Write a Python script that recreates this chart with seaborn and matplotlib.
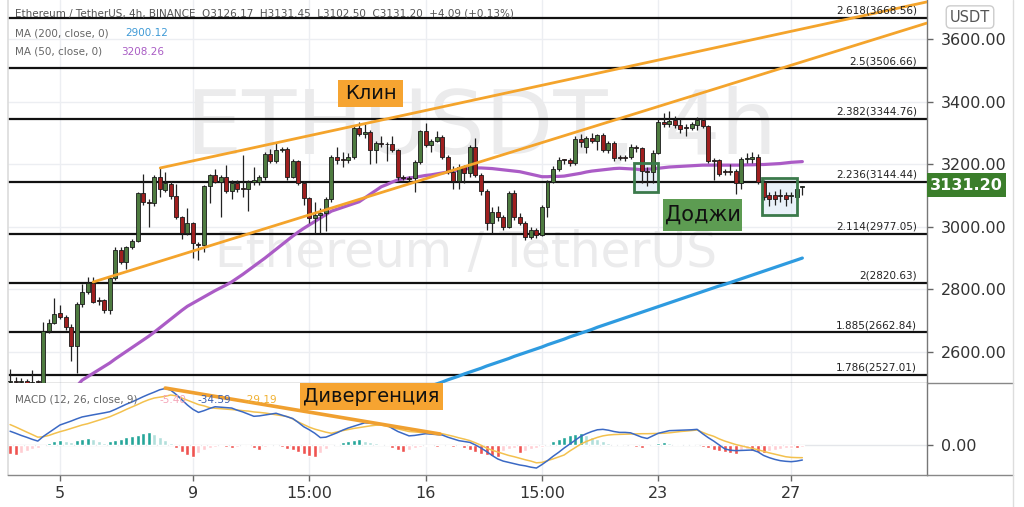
import numpy as np
import pandas as pd
import matplotlib
matplotlib.use("Agg")
import matplotlib.pyplot as plt
from matplotlib.patches import Rectangle, FancyBboxPatch
from matplotlib.lines import Line2D
import seaborn as sns

# ---------------- data ----------------
opens = [2503, 2507, 2504, 2506, 2502, 2505, 2490, 2668, 2693, 2724,
         2712, 2680, 2619, 2753, 2793, 2821, 2766, 2766, 2734, 2835,
         2926, 2888, 2934, 2955, 3107, 3080, 3075, 3158, 3117, 3137,
         3098, 3030, 2981, 3011, 2945, 2942, 3130, 3165, 3144, 3158,
         3115, 3141, 3122, 3120, 3144, 3144, 3158, 3233, 3211, 3245,
         3249, 3160, 3210, 3141, 3091, 3027, 3038, 3043, 3088, 3222,
         3214, 3213, 3224, 3315, 3296, 3304, 3245, 3269, 3264, 3264,
         3245, 3156, 3155, 3155, 3208, 3307, 3261, 3275, 3288, 3222,
         3176, 3147, 3192, 3171, 3256, 3165, 3115, 3011, 3048, 3030,
         2998, 3107, 3030, 3013, 2966, 2990, 2974, 3064, 3144, 3184,
         3213, 3213, 3203, 3280, 3256, 3283, 3275, 3293, 3245, 3269,
         3220, 3222, 3224, 3256, 3251, 3177, 3176, 3237, 3336, 3329,
         3340, 3325, 3318, 3316, 3325, 3341, 3322, 3211, 3213, 3177,
         3177, 3179, 3139, 3216, 3216, 3224, 3144, 3101, 3100, 3099,
         3101, 3097, 3096, 3126.17]
highs = [2545, 2520, 2518, 2515, 2541, 2512, 2696, 2705, 2772, 2750,
         2718, 2690, 2760, 2817, 2841, 2841, 2775, 2770, 2840, 2935,
         2935, 2940, 2962, 3112, 3169, 3090, 3165, 3187, 3175, 3145,
         3137, 3035, 3060, 3015, 2950, 3135, 3170, 3185, 3165, 3197,
         3150, 3148, 3229, 3150, 3190, 3165, 3240, 3250, 3267, 3255,
         3255, 3215, 3212, 3145, 3095, 3080, 3060, 3095, 3228, 3255,
         3240, 3235, 3322, 3335, 3330, 3310, 3275, 3290, 3270, 3290,
         3250, 3165, 3162, 3212, 3310, 3333, 3280, 3305, 3292, 3230,
         3195, 3200, 3198, 3262, 3285, 3172, 3120, 3062, 3065, 3038,
         3115, 3117, 3045, 3020, 3000, 2995, 3070, 3150, 3195, 3222,
         3218, 3220, 3290, 3295, 3290, 3300, 3298, 3300, 3275, 3275,
         3228, 3230, 3265, 3262, 3255, 3190, 3245, 3345, 3365, 3370,
         3355, 3345, 3330, 3335, 3350, 3348, 3325, 3220, 3218, 3185,
         3200, 3185, 3222, 3235, 3240, 3232, 3148, 3110, 3115, 3120,
         3112, 3110, 3128, 3131.45]
lows = [2480, 2490, 2485, 2488, 2480, 2482, 2485, 2660, 2688, 2705,
        2670, 2572, 2533, 2745, 2785, 2755, 2750, 2725, 2720, 2830,
        2880, 2865, 2930, 2950, 3070, 2999, 3065, 3095, 3110, 3090,
        3025, 2960, 2975, 2900, 2894, 2920, 3076, 3140, 3032, 3108,
        3090, 3110, 3095, 3050, 3135, 3135, 3150, 3205, 3205, 3238,
        3150, 3155, 3135, 3070, 3013, 2979, 2980, 2985, 3080, 3200,
        3190, 3205, 3218, 3290, 3285, 3200, 3205, 3255, 3210, 3240,
        3150, 3148, 3145, 3110, 3200, 3255, 3240, 3270, 3215, 3170,
        3120, 3120, 3140, 3160, 3160, 3100, 2990, 2979, 3020, 2990,
        2995, 3022, 3005, 2958, 2960, 2965, 2970, 3030, 3140, 3178,
        3200, 3195, 3198, 3255, 3235, 3268, 3245, 3240, 3235, 3210,
        3212, 3210, 3215, 3240, 3140, 3130, 3140, 3232, 3320, 3320,
        3315, 3300, 3290, 3310, 3310, 3315, 3205, 3150, 3162, 3165,
        3165, 3105, 3120, 3205, 3205, 3138, 3085, 3065, 3070, 3080,
        3065, 3075, 3085, 3102.50]
closes = [2507, 2504, 2506, 2502, 2505, 2503, 2668, 2693, 2721, 2712,
          2680, 2619, 2753, 2793, 2821, 2761, 2762, 2734, 2835, 2926,
          2888, 2934, 2955, 3107, 3080, 3075, 3160, 3120, 3139, 3098,
          3030, 2981, 3011, 2947, 2942, 3130, 3165, 3144, 3158, 3115,
          3141, 3120, 3120, 3144, 3150, 3158, 3233, 3211, 3245, 3249,
          3160, 3210, 3141, 3091, 3027, 3038, 3043, 3088, 3222, 3213,
          3213, 3224, 3315, 3296, 3304, 3245, 3269, 3264, 3263, 3245,
          3158, 3155, 3154, 3208, 3307, 3261, 3275, 3288, 3222, 3176,
          3147, 3192, 3171, 3256, 3165, 3115, 3011, 3048, 3030, 2998,
          3107, 3030, 3013, 2966, 2990, 2974, 3064, 3144, 3184, 3213,
          3212, 3203, 3280, 3270, 3283, 3275, 3293, 3245, 3269, 3219,
          3219, 3220, 3256, 3251, 3179, 3176, 3237, 3336, 3329, 3339,
          3325, 3311, 3316, 3330, 3341, 3322, 3210, 3210, 3169, 3176,
          3176, 3139, 3216, 3217, 3224, 3144, 3095, 3088, 3090, 3098,
          3088, 3098, 3122, 3131.20]

ma50_start = 12
ma50 = [2490, 2510, 2521, 2532, 2543, 2554, 2565, 2578, 2590, 2602,
        2614, 2626, 2638, 2650, 2663, 2677, 2691, 2705, 2719, 2733,
        2746, 2756, 2766, 2776, 2786, 2796, 2805, 2814, 2824, 2836,
        2848, 2861, 2874, 2887, 2900, 2914, 2928, 2942, 2956, 2970,
        2983, 2995, 3006, 3017, 3028, 3039, 3050, 3056, 3062, 3068,
        3074, 3080, 3092, 3104, 3116, 3128, 3135, 3143, 3150, 3153,
        3156, 3158, 3161, 3164, 3166, 3169, 3172, 3175, 3178, 3181,
        3184, 3187, 3188, 3188, 3187, 3186, 3184, 3182, 3180, 3178,
        3176, 3172, 3168, 3164, 3160, 3160, 3161, 3161, 3162, 3165,
        3168, 3171, 3175, 3178, 3180, 3182, 3184, 3186, 3187, 3186,
        3185, 3184, 3182, 3184, 3185, 3187, 3189, 3191, 3192, 3193,
        3194, 3195, 3196, 3197, 3197, 3197, 3197, 3197, 3197, 3197,
        3197, 3198, 3198, 3199, 3199, 3200, 3201, 3202, 3204, 3206,
        3207, 3208.26]
ma200_start = 76
ma200 = [2492, 2498, 2504, 2511, 2517, 2523, 2530, 2536, 2542, 2548,
         2555, 2561, 2567, 2573, 2579, 2586, 2592, 2598, 2604, 2610,
         2616, 2623, 2629, 2635, 2641, 2648, 2654, 2660, 2666, 2672,
         2679, 2685, 2691, 2697, 2703, 2709, 2715, 2721, 2727, 2733,
         2739, 2745, 2751, 2757, 2763, 2769, 2775, 2781, 2787, 2793,
         2799, 2805, 2811, 2816, 2822, 2828, 2834, 2840, 2846, 2852,
         2858, 2864, 2870, 2876, 2882, 2888, 2894, 2900.12]

macd = [31.7, 27, 22, 17.7, 13, 9, 19.8, 28.6, 37.4, 46,
        50.5, 55, 60, 64.5, 67, 69.4, 71.7, 74, 76.6, 82,
        88, 94, 99, 105, 111, 116.5, 121.5, 127, 130, 126,
        116, 104, 92, 82, 75, 79, 84, 88, 87, 86,
        85, 80, 76, 71, 66, 67, 69, 71, 73, 69,
        65, 61, 52, 42, 35, 27, 17, 18, 23, 28,
        34, 39, 43, 47, 51, 50, 49, 48, 46, 38,
        31, 26, 21, 22, 24, 26, 25, 24, 23, 18,
        14, 10, 8, 6, 0, -7, -15, -24, -32, -37,
        -40, -43, -46, -48, -51, -53, -45, -36, -26, -17,
        -7, 2, 11, 20, 26, 31, 35, 36, 34, 31,
        29, 29, 28, 23, 18, 15, 21, 27, 30, 33,
        33.5, 34, 34.5, 35, 36, 26, 17, 9, 0, -9,
        -12, -13, -12.5, -12, -11.5, -16, -24, -29, -33, -36,
        -37.5, -38.4, -37, -34.59]
signal = [47, 41.5, 35.5, 29.7, 24, 18, 19, 22, 26.5, 30.6,
          34, 38, 42, 46, 49, 53, 57, 61, 65, 70.5,
          76, 82, 87.5, 93, 99, 104, 108, 110, 112, 115,
          113, 108, 103, 98, 93, 90, 86, 84.5, 83.5, 82.5,
          81.5, 80.5, 79, 78, 76, 75, 73.6, 71.5, 69.5, 67.5,
          65.5, 60, 53, 47, 41, 36.5, 33, 29.5, 27, 30,
          33, 35.5, 38, 40, 42, 44, 45.5, 46, 43, 40,
          37, 34, 31, 30, 29, 28.5, 28, 27.5, 26, 23,
          20, 16.5, 13.5, 10, 5, -0.5, -7, -12, -16, -20,
          -24, -27, -30.6, -34, -37, -41, -40, -36, -32, -27.5,
          -23, -14, -6, 2, 8, 13, 17.5, 21, 23, 24,
          24.5, 25, 25.3, 25.5, 26, 26, 26.3, 26.5, 27, 28,
          29.5, 31, 32, 33.3, 34.5, 29, 24, 20, 14, 9,
          5, 1, -2, -5, -8, -11, -14.5, -18, -21, -24,
          -27, -28.5, -29, -29.19]
hist = [-20.7, -23.0, -18.4, -13.8, -9.2, -6.9, -2.3, 4.6, 9.2, 11.5,
        9.2, 6.9, 11.5, 13.8, 16.1, 13.8, 9.2, 4.6, 9.2, 11.5,
        13.8, 18.4, 20.7, 23.0, 27.6, 29.9, 25.3, 18.4, 11.5, 4.6,
        -6.9, -16.1, -23.0, -27.6, -18.4, -11.5, -6.9, -4.6, -2.3, -4.6,
        -6.9, -4.6, -2.3, -2.3, -6.9, -11.5, -4.6, -2.3, -1.2, -4.6,
        -9.2, -11.5, -16.1, -20.7, -25.3, -27.6, -18.4, -9.2, -2.3, 2.3,
        6.9, 9.2, 11.5, 13.8, 9.2, 6.9, 4.6, 2.3, 1.2, -6.9,
        -11.5, -16.1, -11.5, -6.9, -4.6, -2.3, -1.2, -4.6, -2.3, -1.2,
        -4.6, -2.3, -6.9, -11.5, -16.1, -20.7, -23.0, -25.3, -27.6, -13.8,
        -9.2, -6.9, -18.4, -13.8, -9.2, -6.9, -4.6, 2.3, 9.2, 13.8,
        18.4, 23.0, 25.3, 27.6, 23.0, 18.4, 13.8, 9.2, 4.6, 2.3,
        1.2, 0.7, -1.2, -4.6, -6.9, -2.3, 2.3, 4.6, 5.8, 4.6,
        2.3, 1.2, 2.3, 1.2, 0.7, -4.6, -6.9, -11.5, -13.8, -16.1,
        -18.4, -20.7, -11.5, -9.2, -13.8, -16.1, -18.4, -13.8, -11.5, -9.2,
        -6.9, -5.8, -5.8, -5.40]

fib_ratios = ["2.618", "2.5", "2.382", "2.236", "2.114", "2", "1.885", "1.786"]
fib_levels = [3668.56, 3506.66, 3344.76, 3144.44, 2977.05, 2820.63, 2662.84, 2527.01]
date_ticks = [9, 33, 54, 75, 96, 117, 141]
date_labels = ["5", "9", "15:00", "16", "15:00", "23", "27"]
price_ticks = [2600, 2800, 3000, 3200, 3400, 3600]
last_price = 3131.20

# drawings (index, price)
wedge_upper = [(27.1, 3188), (165.5, 3718.6)]
wedge_lower = [(15.0, 2823.6), (165.5, 3651.0)]
divergence = [(28.0, 131.0), (77.6, 25.3)]
doji_boxes = [(112.6, 3111, 4.4, 93), (135.7, 3038, 6.3, 118)]

# ---------------- style ----------------
sns.set_theme(style="white")
plt.rcParams["font.family"] = ["DejaVu Sans"]

W, H = 1024, 507
fig = plt.figure(figsize=(W / 100, H / 100), dpi=100)
fig.patch.set_facecolor("white")
L, R = 8, 927
ax = fig.add_axes([L / W, 1 - 383 / H, (R - L) / W, 383 / H])
axm = fig.add_axes([L / W, 1 - 475 / H, (R - L) / W, 92 / H], sharex=ax)

n = len(closes)
idx = np.arange(n)
df = pd.DataFrame({"i": idx, "open": opens, "high": highs, "low": lows, "close": closes})
XMIN, XMAX = -0.38, 165.5
ax.set_xlim(XMIN, XMAX)
ax.set_ylim(2500.9, 3724.6)
axm.set_ylim(-69, 142.6)

def ax_frac_x(px):
    return (px - L) / (R - L)

# grid
for a in (ax, axm):
    a.set_facecolor("white")
    for t in date_ticks:
        a.axvline(t, color="#eceef2", lw=1, zorder=0)
for p in price_ticks:
    ax.axhline(p, color="#eceef2", lw=1, zorder=0)
axm.axhline(0, color="#e4e6ea", lw=1, zorder=0)

# watermark
ax.text(ax_frac_x(481), (383 - 130) / 383, "ETHUSDT, 4h", transform=ax.transAxes,
        ha="center", va="center", fontsize=64, color="#ebebec", zorder=0.5)
ax.text(ax_frac_x(466), (383 - 253) / 383, "Ethereum / TetherUS", transform=ax.transAxes,
        ha="center", va="center", fontsize=35, color="#ebebec", zorder=0.5)

# fib levels
for r, lv in zip(fib_ratios, fib_levels):
    ax.axhline(lv, color="#111111", lw=1.6, zorder=2)
    ax.annotate(f"{r}({lv:.2f})", xy=(ax_frac_x(917), lv), xycoords=("axes fraction", "data"),
                xytext=(0, 1.5), textcoords="offset points", ha="right", va="bottom",
                fontsize=7.5, color="#222222", zorder=6)

# moving averages
sns.lineplot(x=np.arange(ma50_start, ma50_start + len(ma50)), y=ma50, ax=ax,
             color="#ab5cc6", lw=2.3, sort=False, estimator=None, legend=False, zorder=2.5)
sns.lineplot(x=np.arange(ma200_start, ma200_start + len(ma200)), y=ma200, ax=ax,
             color="#2e9be0", lw=2.3, sort=False, estimator=None, legend=False, zorder=2.5)

# doji boxes
for (x0, y0, w, h) in doji_boxes:
    ax.add_patch(Rectangle((x0, y0), w, h, facecolor="#dbe9f5", alpha=0.6, edgecolor="none", zorder=1.5))
    ax.add_patch(Rectangle((x0, y0), w, h, facecolor="none", edgecolor="#3b7a4b", lw=2, zorder=4))

# candles
up = df["close"] >= df["open"]
ax.vlines(df["i"], df["low"], df["high"], color="#222222", lw=0.9, zorder=3)
body_lo = np.minimum(df["open"], df["close"])
body_h = np.maximum(np.abs(df["close"] - df["open"]), 3.0)
ax.bar(df["i"], body_h, bottom=body_lo, width=0.72,
       color=np.where(up, "#4e7b40", "#9f1f1f"), edgecolor="#1a1a1a", linewidth=0.6, zorder=3.2)

# wedge lines
for seg in (wedge_upper, wedge_lower):
    ax.plot([seg[0][0], seg[1][0]], [seg[0][1], seg[1][1]], color="#f4a42c", lw=2.0,
            zorder=3.5, solid_capstyle="round", clip_on=True)

# MACD panel
h = np.array(hist)
prev = np.concatenate([[h[0]], h[:-1]])
cols = np.where(h >= 0, np.where(h >= prev, "#26a69a", "#b2dfdb"),
                np.where(h <= prev, "#ef5350", "#ffcdd2"))
axm.bar(idx, h, width=0.72, color=cols, zorder=2)
sns.lineplot(x=idx, y=signal, ax=axm, color="#f3c14e", lw=1.1, sort=False,
             estimator=None, legend=False, zorder=3)
sns.lineplot(x=idx, y=macd, ax=axm, color="#3b69c4", lw=1.1, sort=False,
             estimator=None, legend=False, zorder=3.1)
axm.plot([divergence[0][0], divergence[1][0]], [divergence[0][1], divergence[1][1]],
         color="#f0a030", lw=2.6, zorder=4, solid_capstyle="round")

# axes formatting
ax.yaxis.tick_right()
ax.set_yticks(price_ticks)
ax.set_yticklabels([f"{p:.2f}" for p in price_ticks])
ax.tick_params(axis="y", right=True, length=4, width=1, color="#666666", pad=6,
               labelsize=11.5, labelcolor="#333333")
ax.tick_params(axis="x", bottom=False, labelbottom=False)
axm.yaxis.tick_right()
axm.set_yticks([0])
axm.set_yticklabels(["0.00"])
axm.tick_params(axis="y", right=True, length=4, width=1, color="#666666", pad=6,
                labelsize=11.5, labelcolor="#333333")
axm.set_xticks(date_ticks)
axm.set_xticklabels(date_labels)
axm.tick_params(axis="x", bottom=True, length=4, width=1, color="#666666", pad=4,
                labelsize=11.5, labelcolor="#333333")
for a in (ax, axm):
    a.set_xlabel("")
    a.set_ylabel("")
    for s in ("top",):
        a.spines[s].set_visible(False)
    a.spines["left"].set_color("#dddddd")
    a.spines["right"].set_color("#777777")
    a.spines["bottom"].set_color("#888888")
    a.spines["right"].set_linewidth(1)
    a.spines["bottom"].set_linewidth(1)

# figure lines (panel separators across price scale, outer border)
fig.add_artist(Line2D([R / W, 1013 / W], [1 - 383 / H] * 2, color="#888888", lw=1, transform=fig.transFigure))
fig.add_artist(Line2D([R / W, 1013 / W], [1 - 475 / H] * 2, color="#888888", lw=1, transform=fig.transFigure))
fig.add_artist(Line2D([1013 / W] * 2, [0, 1], color="#dddddd", lw=1, transform=fig.transFigure))

# header / legends
hdr = dict(transform=fig.transFigure, fontsize=7.5, va="center", ha="left")
fig.text(15 / W, 1 - 14 / H, "Ethereum / TetherUS, 4h, BINANCE  O3126.17  H3131.45  L3102.50  C3131.20  +4.09 (+0.13%)",
         color="#555555", **hdr)
fig.text(15 / W, 1 - 33 / H, "MA (200, close, 0)", color="#666666", **hdr)
fig.text(125 / W, 1 - 33 / H, "2900.12", color="#3f9ad6", **hdr)
fig.text(15 / W, 1 - 52 / H, "MA (50, close, 0)", color="#666666", **hdr)
fig.text(121 / W, 1 - 52 / H, "3208.26", color="#a95cc4", **hdr)
fig.text(15 / W, 1 - 400 / H, "MACD (12, 26, close, 9)", color="#666666", **hdr)
fig.text(160 / W, 1 - 400 / H, "-5.40", color="#f4a6b8", **hdr)
fig.text(197 / W, 1 - 400 / H, "-34.59", color="#3b5fb0", **hdr)
fig.text(244 / W, 1 - 400 / H, "-29.19", color="#f0b030", **hdr)

# current price tag and currency label
fig.add_artist(Rectangle((R / W, 1 - 197 / H), 79 / W, 24 / H, facecolor="#3b7e2b",
                         edgecolor="none", transform=fig.transFigure, zorder=5))
fig.text(966 / W, 1 - 185 / H, f"{last_price:.2f}", color="white", fontsize=11.5,
         fontweight="bold", ha="center", va="center", zorder=6)
fig.text(970 / W, 1 - 17 / H, "USDT", color="#555555", fontsize=10.5, ha="center", va="center",
         zorder=6, bbox=dict(boxstyle="round,pad=0.25,rounding_size=0.3", facecolor="white",
                             edgecolor="#cccccc", lw=1))

# annotation labels
def label_box(x0, y0, x1, y1, text, fc, size):
    fig.add_artist(Rectangle((x0 / W, 1 - y1 / H), (x1 - x0) / W, (y1 - y0) / H,
                             facecolor=fc, edgecolor="none", transform=fig.transFigure, zorder=7))
    fig.text((x0 + x1) / 2 / W, 1 - (y0 + y1) / 2 / H, text, ha="center", va="center",
             fontsize=size, color="#111111", zorder=8)

label_box(338, 80, 403, 107, "Клин", "#f6a431", 14)
label_box(663, 199, 742, 231, "Доджи", "#5d9c52", 15)
label_box(300, 383, 443, 410, "Дивергенция", "#f6a431", 14)

fig.savefig("out.png", dpi=100, facecolor="white")
